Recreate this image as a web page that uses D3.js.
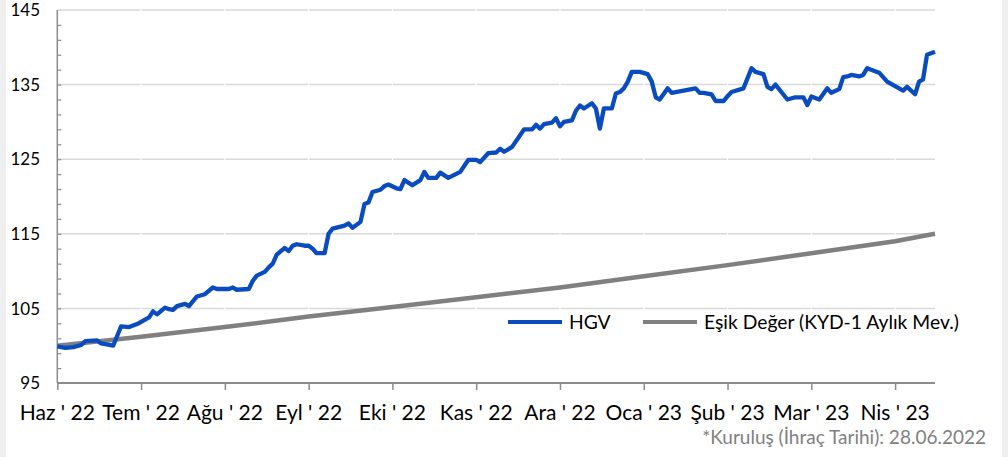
<!DOCTYPE html>
<html>
<head>
<meta charset="utf-8">
<script src="https://cdn.jsdelivr.net/npm/d3@7"></script>
<style>
  body { margin: 0; background: #fff; }
  svg { display: block; font-family: Lato, "Open Sans", sans-serif; }
</style>
</head>
<body>
<div id="chart"></div>
<script>
// business-day index on the x axis, one tick every 21 days
var tickDays = [0, 21, 42, 63, 84, 105, 126, 147, 168, 189, 210];
var tickLabels = ["Haz ' 22", "Tem ' 22", "Ağu ' 22", "Eyl ' 22", "Eki ' 22", "Kas ' 22",
                  "Ara ' 22", "Oca ' 23", "Şub ' 23", "Mar ' 23", "Nis ' 23"];
var lastDay = 220;

// HGV
var hgvDay = [0, 2, 4, 6, 7, 10, 11, 14, 16, 18, 20, 23, 24, 25, 27, 28, 29, 30, 32, 33,
  35, 37, 39, 40, 43, 44, 45, 48, 49, 50, 52, 53, 54, 55, 57, 58, 59, 60, 62, 63,
  64, 65, 67, 68, 69, 72, 73, 74, 76, 77, 78, 79, 81, 82, 83, 85, 86, 87, 89, 91,
  92, 93, 95, 96, 98, 101, 103, 105, 106, 108, 110, 111, 112, 114, 116, 117, 119, 120, 121, 122,
  124, 125, 126, 127, 129, 130, 131, 132, 134, 135, 136, 137, 139, 140, 141, 142, 143, 144, 146, 148,
  149, 150, 151, 153, 154, 160, 161, 162, 164, 165, 167, 168, 169, 172, 174, 175, 177, 178, 179, 180,
  183, 185, 187, 188, 189, 191, 193, 194, 196, 197, 198, 199, 201, 202, 203, 206, 208, 212, 213, 215,
  216, 217, 218, 220];
var hgv = [99.9, 99.7, 99.8, 100.1, 100.6, 100.7, 100.3, 100.0, 102.6, 102.5, 102.9, 103.8, 104.6, 104.2, 105.1, 104.9, 104.8, 105.3, 105.6, 105.3,
  106.6, 106.9, 107.8, 107.6, 107.6, 107.8, 107.5, 107.6, 108.7, 109.4, 109.9, 110.5, 111.0, 112.2, 113.1, 112.7, 113.4, 113.6, 113.4, 113.4,
  113.0, 112.4, 112.4, 115.0, 115.7, 116.1, 116.4, 115.8, 116.6, 119.0, 119.2, 120.6, 120.9, 121.4, 121.6, 121.1, 121.0, 122.2, 121.5, 122.2,
  123.3, 122.5, 122.5, 123.2, 122.5, 123.3, 124.9, 124.9, 124.6, 125.8, 125.9, 126.4, 126.0, 126.65, 128.2, 129.0, 129.0, 129.6, 129.1, 129.7,
  129.9, 130.5, 129.4, 130.0, 130.2, 131.5, 132.2, 131.8, 132.5, 131.8, 129.1, 131.8, 131.8, 133.8, 134.0, 134.5, 135.4, 136.7, 136.7, 136.4,
  135.4, 133.3, 133.0, 134.5, 133.9, 134.5, 133.9, 133.9, 133.7, 132.8, 132.8, 133.45, 134.0, 134.5, 137.2, 136.7, 136.4, 134.7, 134.4, 135.0,
  133.0, 133.3, 133.3, 132.25, 133.4, 133.0, 134.5, 133.9, 134.4, 136.0, 136.1, 136.3, 136.1, 136.3, 137.2, 136.6, 135.4, 134.2, 134.7, 133.7,
  135.4, 135.7, 139.0, 139.4];

// Eşik Değer (threshold)
var esikDay = [0, 21, 42, 63, 84, 105, 126, 147, 168, 189, 210, 220];
var esik = [100.0, 101.2, 102.5, 103.9, 105.2, 106.5, 107.8, 109.3, 110.8, 112.4, 114.0, 115.0];

var seriesNames = ["HGV", "Eşik Değer (KYD-1 Aylık Mev.)"];
var seriesColors = ["#0a4cc0", "#808080"];

var W = 1008, H = 457;
var margin = { top: 10, right: 73, bottom: 74, left: 57.3 };

var svg = d3.select("#chart").append("svg")
  .attr("width", W)
  .attr("height", H);

// light side strips like the original frame
svg.append("rect").attr("x", 0).attr("y", 0).attr("width", 6).attr("height", H).attr("fill", "#f0f0f0");
svg.append("rect").attr("x", 1002).attr("y", 0).attr("width", 6).attr("height", H).attr("fill", "#f0f0f0");

var x = d3.scaleLinear().domain([0, lastDay]).range([margin.left, W - margin.right]);
var y = d3.scaleLinear().domain([95, 145]).range([H - margin.bottom, margin.top]);

// gridlines
svg.append("g")
  .selectAll("line")
  .data(d3.range(105, 146, 10))
  .enter().append("line")
    .attr("x1", x(0)).attr("x2", x(lastDay))
    .attr("y1", function(d) { return y(d); })
    .attr("y2", function(d) { return y(d); })
    .attr("stroke", "#d9d9d9")
    .attr("stroke-width", 1.5);

// little breaks in the gridlines at the month ticks
svg.append("g")
  .selectAll("line")
  .data(tickDays.slice(1))
  .enter().append("line")
    .attr("x1", function(d) { return x(d); })
    .attr("x2", function(d) { return x(d); })
    .attr("y1", y(145) - 2).attr("y2", y(95) - 2)
    .attr("stroke", "#fff")
    .attr("stroke-width", 1.2);

// y axis
var yAxis = svg.append("g")
  .attr("transform", "translate(" + x(0) + ",0)");
yAxis.call(d3.axisRight(y).tickValues(d3.range(95, 145, 2)).tickSize(4).tickFormat(""));
yAxis.select(".domain").remove();
yAxis.selectAll("line").attr("stroke", "#8c8c8c").attr("stroke-width", 1.2);
yAxis.append("line")
  .attr("x1", 0).attr("x2", 0)
  .attr("y1", y(145)).attr("y2", y(95))
  .attr("stroke", "#8c8c8c").attr("stroke-width", 1.5);

svg.append("g")
  .selectAll("text")
  .data(d3.range(95, 146, 10))
  .enter().append("text")
    .attr("x", 40)
    .attr("y", function(d) { return y(d); })
    .attr("dy", "0.36em")
    .attr("text-anchor", "end")
    .style("font-size", "17px")
    .style("fill", "#000")
    .text(function(d) { return d; });

// x axis
var xAxis = svg.append("g")
  .attr("transform", "translate(0," + y(95) + ")");
xAxis.call(d3.axisBottom(x).tickValues(tickDays).tickSize(7).tickFormat(""));
xAxis.select(".domain").attr("stroke", "#8c8c8c").attr("stroke-width", 2)
  .attr("d", "M" + x(0) + ",0H" + x(lastDay));
xAxis.selectAll(".tick line").attr("stroke", "#8c8c8c").attr("stroke-width", 1.5);

svg.append("g")
  .selectAll("text")
  .data(tickDays)
  .enter().append("text")
    .attr("x", function(d) { return x(d); })
    .attr("y", 420)
    .attr("text-anchor", "middle")
    .style("font-size", "21px")
    .style("fill", "#000")
    .text(function(d, i) { return tickLabels[i]; });

// lines
var line = d3.line()
  .x(function(d) { return x(d[0]); })
  .y(function(d) { return y(d[1]); });

svg.append("path")
  .datum(d3.zip(esikDay, esik))
  .attr("fill", "none")
  .attr("stroke", seriesColors[1])
  .attr("stroke-width", 4.5)
  .attr("stroke-linejoin", "round")
  .attr("d", line);

svg.append("path")
  .datum(d3.zip(hgvDay, hgv))
  .attr("fill", "none")
  .attr("stroke", seriesColors[0])
  .attr("stroke-width", 4.3)
  .attr("stroke-linejoin", "round")
  .attr("d", line);

// legend
var legendX = [508, 643];
var legend = svg.append("g");
seriesNames.forEach(function(name, i) {
  legend.append("line")
    .attr("x1", legendX[i]).attr("x2", legendX[i] + 54)
    .attr("y1", 322).attr("y2", 322)
    .attr("stroke", seriesColors[i])
    .attr("stroke-width", 4);
  legend.append("text")
    .attr("x", legendX[i] + 61)
    .attr("y", 322)
    .attr("dy", "0.35em")
    .style("font-size", "19.3px")
    .style("fill", "#000")
    .text(name);
});

// footnote
svg.append("text")
  .attr("x", 986)
  .attr("y", 444)
  .attr("text-anchor", "end")
  .style("font-size", "19px")
  .style("fill", "#808080")
  .text("*Kuruluş (İhraç Tarihi): 28.06.2022");
</script>
</body>
</html>
